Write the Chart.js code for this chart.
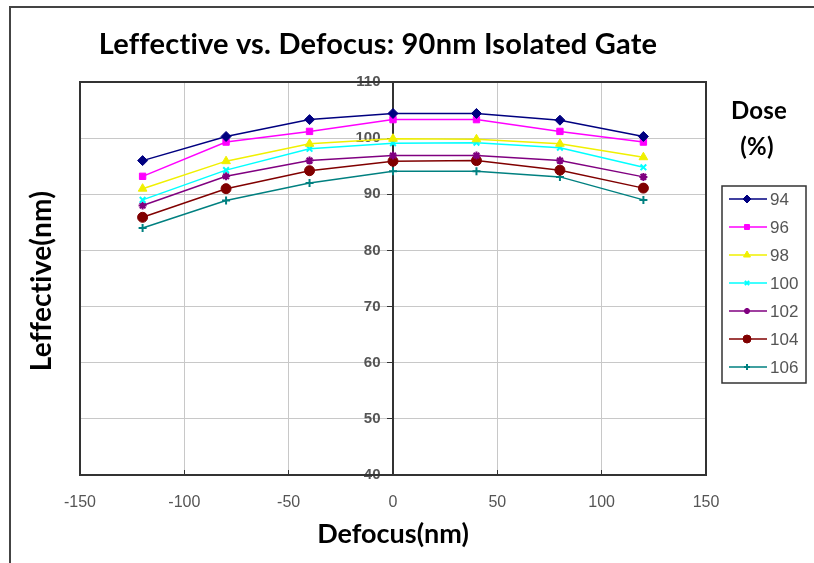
<!DOCTYPE html>
<html lang="en">
<head>
  <meta charset="UTF-8">
  <title>Leffective vs. Defocus</title>
  <script src="https://cdn.jsdelivr.net/npm/chart.js"></script>
  <style>
    body {
      margin: 0;
      background: #fff;
    }
    .frame {
      position: absolute;
      left: 9px;
      top: 6px;
      width: 820px;
      height: 570px;
      border-top: 2px solid #444;
      border-left: 2px solid #444;
    }
    canvas {
      position: absolute;
      left: 0;
      top: 0;
    }
  </style>
</head>
<body>

  <div class="frame"></div>
  <canvas id="chart" width="814" height="563"></canvas>

  <script>
    // Data
    const defocus = [-120, -80, -40, 0, 40, 80, 120];
    const doses = ['94', '96', '98', '100', '102', '104', '106'];
    const dose94  = [96.0, 100.3, 103.3, 104.4, 104.4, 103.2, 100.3];
    const dose96  = [93.2, 99.3, 101.2, 103.3, 103.3, 101.2, 99.3];
    const dose98  = [91.0, 95.9, 99.0, 99.9, 99.8, 99.0, 96.6];
    const dose100 = [89.0, 94.3, 98.1, 99.1, 99.2, 98.3, 94.8];
    const dose102 = [88.0, 93.2, 96.0, 96.9, 96.9, 96.0, 93.1];
    const dose104 = [85.9, 91.0, 94.2, 95.9, 96.0, 94.3, 91.1];
    const dose106 = [84.0, 88.9, 92.0, 94.1, 94.1, 93.1, 89.0];
    const yTicks = [40, 50, 60, 70, 80, 90, 100, 110];
    const xTicks = [-150, -100, -50, 0, 50, 100, 150];

    const seriesValues = [dose94, dose96, dose98, dose100, dose102, dose104, dose106];
    const colors = ['#000080', '#ff00ff', '#f0f000', '#00ffff', '#800080', '#800000', '#008080'];
    const markers = ['rectRot', 'rect', 'triangle', 'crossRot', 'star', 'circle', 'cross'];
    const radii = [5, 4.5, 5, 4, 4, 5, 4];

    const datasets = doses.map((d, i) => ({
      label: d,
      data: defocus.map((x, j) => ({ x: x, y: seriesValues[i][j] })),
      borderColor: colors[i],
      backgroundColor: colors[i],
      borderWidth: 1.5,
      pointStyle: markers[i],
      pointRadius: radii[i],
      pointBorderWidth: (markers[i] === 'crossRot' || markers[i] === 'star' || markers[i] === 'cross') ? 2 : 1,
      tension: 0
    }));

    // border, extra texts and the boxed legend on the right
    const decorations = {
      id: 'decorations',
      afterDraw(chart) {
        const ctx = chart.ctx;
        const a = chart.chartArea;
        ctx.save();
        ctx.strokeStyle = '#333';
        ctx.lineWidth = 2;
        ctx.strokeRect(a.left, a.top, a.right - a.left, a.bottom - a.top);

        ctx.fillStyle = '#000';
        ctx.textAlign = 'center';
        ctx.textBaseline = 'middle';
        ctx.letterSpacing = '0.2px';
        ctx.font = 'bold 29px Lato';
        ctx.fillText('Leffective vs. Defocus: 90nm Isolated Gate', 378, 45);

        ctx.font = 'bold 24px Lato';
        ctx.fillText('Dose', 759, 111);
        ctx.fillText('(%)', 757, 147);

        ctx.save();
        ctx.translate(42, 281);
        ctx.rotate(-Math.PI / 2);
        ctx.font = 'bold 28px Lato';
        ctx.fillText('Leffective(nm)', 0, 0);
        ctx.restore();

        // legend box
        ctx.letterSpacing = '0px';
        ctx.strokeStyle = '#333';
        ctx.lineWidth = 1.5;
        ctx.strokeRect(722, 186, 84, 197);
        ctx.font = '17px "Liberation Sans"';
        ctx.textAlign = 'left';
        chart.data.datasets.forEach((ds, i) => {
          const y = 199 + i * 28;
          ctx.strokeStyle = ds.borderColor;
          ctx.lineWidth = 1.5;
          ctx.beginPath();
          ctx.moveTo(729, y);
          ctx.lineTo(767, y);
          ctx.stroke();
          ctx.fillStyle = ds.backgroundColor;
          ctx.lineWidth = ds.pointBorderWidth;
          Chart.helpers.drawPoint(ctx, { pointStyle: ds.pointStyle, radius: ds.pointRadius - 1, borderWidth: ds.pointBorderWidth, rotation: 0 }, 747, y);
          ctx.fillStyle = '#555';
          ctx.fillText(ds.label, 770, y + 1);
        });
        ctx.restore();
      }
    };

    new Chart(document.getElementById('chart'), {
      type: 'line',
      data: { datasets: datasets },
      plugins: [decorations],
      options: {
        responsive: false,
        animation: false,
        layout: {
          padding: { left: 80, right: 108, top: 82, bottom: 8 }
        },
        plugins: {
          legend: { display: false },
          title: { display: false },
          tooltip: { enabled: false }
        },
        scales: {
          x: {
            type: 'linear',
            min: -150,
            max: 150,
            afterBuildTicks: (scale) => { scale.ticks = xTicks.map(v => ({ value: v })); },
            afterFit: (scale) => { scale.height = 80; },
            // short tick marks pointing up into the plot
            grid: { color: '#c8c8c8', tickColor: '#333', tickLength: -5 },
            border: { color: '#333', width: 2 },
            ticks: {
              padding: 23,
              color: '#555',
              font: { family: 'Liberation Sans', size: 16 }
            },
            title: {
              display: true,
              text: 'Defocus(nm)',
              color: '#000',
              font: { family: 'Lato', size: 27, weight: 'bold' },
              padding: { top: 6, bottom: 5 }
            }
          },
          y: {
            type: 'linear',
            position: { x: 0 },
            min: 40,
            max: 110,
            afterBuildTicks: (scale) => { scale.ticks = yTicks.map(v => ({ value: v })); },
            grid: { color: '#c8c8c8', tickColor: '#333', tickLength: 5 },
            border: { color: '#333', width: 2 },
            ticks: {
              color: '#555',
              font: { family: 'Liberation Sans', size: 15, weight: 'bold' },
              // labels sit left of the centred axis
              callback: (v) => v + '   '
            }
          }
        }
      }
    });
  </script>

</body>
</html>
